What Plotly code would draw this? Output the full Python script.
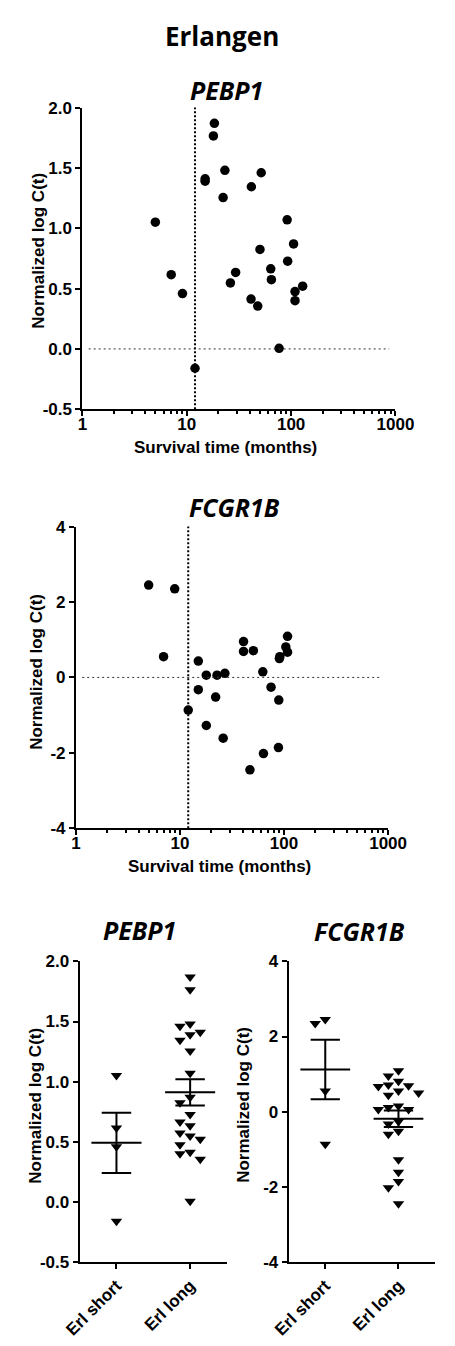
import numpy as np
import plotly.graph_objects as go

# ---------------- data ----------------
cutoff_months = 12

pebp1_months = [5.0, 7.1, 9.1, 12.0, 15.0, 15.0, 18.4, 18.0, 22.3, 23.2, 26.2, 29.4, 41.3,
                41.6, 47.9, 50.3, 51.7, 63.8, 64.7, 76.7, 91.6, 92.7, 105.6, 109.0, 109.0, 129.0]
pebp1_values = [1.05, 0.615, 0.459, -0.16, 1.41, 1.39, 1.87, 1.765, 1.254, 1.48, 0.547, 0.634, 0.413,
                1.344, 0.355, 0.825, 1.46, 0.664, 0.574, 0.005, 1.07, 0.727, 0.87, 0.475, 0.40, 0.52]

fcgr1b_months = [5.0, 8.9, 6.95, 12.0, 15.0, 15.0, 17.9, 17.9, 22.0, 22.7, 26.0, 27.0, 40.8,
                 40.8, 47.0, 50.7, 62.5, 63.4, 75.0, 88.3, 89.0, 90.2, 91.0, 104.0, 108.0, 108.0]
fcgr1b_values = [2.45, 2.35, 0.55, -0.865, 0.435, -0.325, 0.06, -1.275, -0.52, 0.06, -1.61, 0.11, 0.95,
                 0.69, -2.45, 0.71, 0.15, -2.02, -0.26, -1.86, -0.6, 0.50, 0.55, 0.81, 1.09, 0.67]

group_labels = ["Erl short", "Erl long"]
log_tickvals = [1, 10, 100, 1000]
log_ticktext = ["1", "10", "100", "1000"]
pebp1_tickvals = [-0.5, 0.0, 0.5, 1.0, 1.5, 2.0]
pebp1_ticktext = ["-0.5", "0.0", "0.5", "1.0", "1.5", "2.0"]
fcgr1b_tickvals = [-4, -2, 0, 2, 4]
fcgr1b_ticktext = ["-4", "-2", "0", "2", "4"]

# ---------------- helpers ----------------
W, H = 455, 1346


def dom_x(a, b):
    return [a / W, b / W]


def dom_y(top, bottom):
    return [1 - bottom / H, 1 - top / H]


def swarm_offsets(values, py_per_unit, px_per_unit, diam=9.0, step=11.0):
    vals = np.asarray(values, dtype=float)
    order = np.argsort(-vals)
    placed = []
    offs = np.zeros(len(vals))
    cands = [0]
    for j in range(1, 12):
        cands += [-j, j]
    for i in order:
        y = vals[i] * py_per_unit
        xsel = 0.0
        for c in cands:
            x = c * step
            if all((x - px) ** 2 + (y - py) ** 2 >= diam ** 2 for px, py in placed):
                xsel = x
                break
        placed.append((xsel, y))
        offs[i] = xsel / px_per_unit
    return offs


fig = go.Figure()

font_ax = dict(family="Liberation Sans, Arial", size=17, color="black", weight="bold")
axis_common = dict(showline=True, linecolor="black", linewidth=2, ticks="outside", ticklen=5,
                   tickwidth=2, tickcolor="black", showgrid=False, zeroline=False,
                   tickfont=font_ax, fixedrange=True)

# ---------------- top scatter panels ----------------
for k, (months, values) in enumerate([(pebp1_months, pebp1_values), (fcgr1b_months, fcgr1b_values)]):
    xa = "x" if k == 0 else "x2"
    ya = "y" if k == 0 else "y2"
    fig.add_trace(go.Scatter(x=months, y=values, mode="markers", xaxis=xa, yaxis=ya,
                             marker=dict(symbol="circle", size=9.5, color="black"),
                             showlegend=False, hoverinfo="x+y"))

# ---------------- bottom dot plots ----------------
bottom = [
    (pebp1_months, pebp1_values, "x3", "y3", 122.4),
    (fcgr1b_months, fcgr1b_values, "x4", "y4", 38.2),
]
for months, values, xa, ya, ppu in bottom:
    m = np.asarray(months)
    v = np.asarray(values)
    groups = [v[m <= cutoff_months], v[m > cutoff_months]]
    for gi, g in enumerate(groups):
        offs = swarm_offsets(g, ppu, 80.0)
        fig.add_trace(go.Scatter(x=gi + offs, y=g, mode="markers", xaxis=xa, yaxis=ya,
                                 marker=dict(symbol="triangle-down", size=10, color="black"),
                                 showlegend=False, hoverinfo="y"))
        mean = float(np.mean(g))
        sem = float(np.std(g, ddof=1) / np.sqrt(len(g)))
        xs = [gi - 0.34, gi + 0.34, None, gi - 0.2, gi + 0.2, None, gi - 0.2, gi + 0.2, None, gi, gi]
        ys = [mean, mean, None, mean + sem, mean + sem, None, mean - sem, mean - sem, None,
              mean - sem, mean + sem]
        fig.add_trace(go.Scatter(x=xs, y=ys, mode="lines", xaxis=xa, yaxis=ya,
                                 line=dict(color="black", width=2), showlegend=False,
                                 hoverinfo="skip"))

# ---------------- axes ----------------
minor_vals = [d * 10 ** e for e in range(3) for d in range(2, 10)]
log_axis = dict(axis_common, type="log", range=[0, 3], tickmode="array", tickvals=log_tickvals,
                ticktext=log_ticktext, ticklabelstandoff=-7,
                minor=dict(ticks="outside", ticklen=3, tickwidth=1.5, tickcolor="black",
                           tickmode="array", tickvals=minor_vals, showgrid=False))

fig.update_layout(
    width=W, height=H, margin=dict(l=0, r=0, t=0, b=0),
    paper_bgcolor="white", plot_bgcolor="white",
    xaxis=dict(log_axis, domain=dom_x(71, 411), anchor="y"),
    yaxis=dict(axis_common, domain=dom_y(100, 406), anchor="x", range=[-0.5, 2.0],
               tickmode="array", tickvals=pebp1_tickvals, ticktext=pebp1_ticktext),
    xaxis2=dict(log_axis, domain=dom_x(64, 403), anchor="y2"),
    yaxis2=dict(axis_common, domain=dom_y(525, 831), anchor="x2", range=[-4, 4],
                tickmode="array", tickvals=fcgr1b_tickvals, ticktext=fcgr1b_ticktext),
    xaxis3=dict(axis_common, domain=dom_x(68, 228), anchor="y3", range=[-0.5, 1.5],
                tickmode="array", tickvals=[0, 1], ticktext=group_labels, tickangle=-45),
    yaxis3=dict(axis_common, domain=dom_y(966, 1271), anchor="x3", range=[-0.5, 2.0],
                tickmode="array", tickvals=pebp1_tickvals, ticktext=pebp1_ticktext),
    xaxis4=dict(axis_common, domain=dom_x(295, 454), anchor="y4", range=[-0.5, 1.5],
                tickmode="array", tickvals=[0, 1], ticktext=group_labels, tickangle=-45),
    yaxis4=dict(axis_common, domain=dom_y(966, 1271), anchor="x4", range=[-4, 4],
                tickmode="array", tickvals=fcgr1b_tickvals, ticktext=fcgr1b_ticktext),
)

# reference lines
shapes = []
for xa, ya in [("x", "y"), ("x2", "y2")]:
    shapes.append(dict(type="line", xref=xa, yref=ya + " domain", x0=cutoff_months, x1=cutoff_months,
                       y0=0, y1=1, line=dict(color="black", width=2, dash="2px,2px")))
    shapes.append(dict(type="line", xref=xa + " domain", yref=ya, x0=0.02, x1=0.98, y0=0, y1=0,
                       line=dict(color="#333", width=1, dash="2px,3px")))
fig.update_layout(shapes=shapes)

# titles
title_font = dict(family="Open Sans, Lato", size=26, color="black", weight="bold")
gene_font = dict(family="Open Sans, Lato", size=25, color="black", weight="bold", style="italic")
lab_font = dict(family="Liberation Sans, Arial", size=17, color="black", weight="bold")

ann = [
    dict(text="Erlangen", x=223 / W, y=1 - 27 / H, font=title_font),
    dict(text="PEBP1", x=228 / W, y=1 - 82 / H, font=gene_font),
    dict(text="FCGR1B", x=236 / W, y=1 - 505 / H, font=gene_font),
    dict(text="PEBP1", x=133 / W, y=1 - 934 / H, font=gene_font),
    dict(text="FCGR1B", x=372 / W, y=1 - 935 / H, font=gene_font),
    dict(text="Survival time (months)", x=226 / W, y=1 - 445 / H, font=lab_font),
    dict(text="Survival time (months)", x=220 / W, y=1 - 870 / H, font=lab_font),
    dict(text="Normalized log C(t)", x=23 / W, y=1 - 245 / H, font=lab_font, textangle=-90),
    dict(text="Normalized log C(t)", x=21 / W, y=1 - 672 / H, font=lab_font, textangle=-90),
    dict(text="Normalized log C(t)", x=20 / W, y=1 - 1112 / H, font=lab_font, textangle=-90),
    dict(text="Normalized log C(t)", x=246 / W, y=1 - 1112 / H, font=lab_font, textangle=-90),
]
for a in ann:
    a.update(xref="paper", yref="paper", showarrow=False, xanchor="center", yanchor="middle")
fig.update_layout(annotations=ann)

fig.write_html("out.html")
